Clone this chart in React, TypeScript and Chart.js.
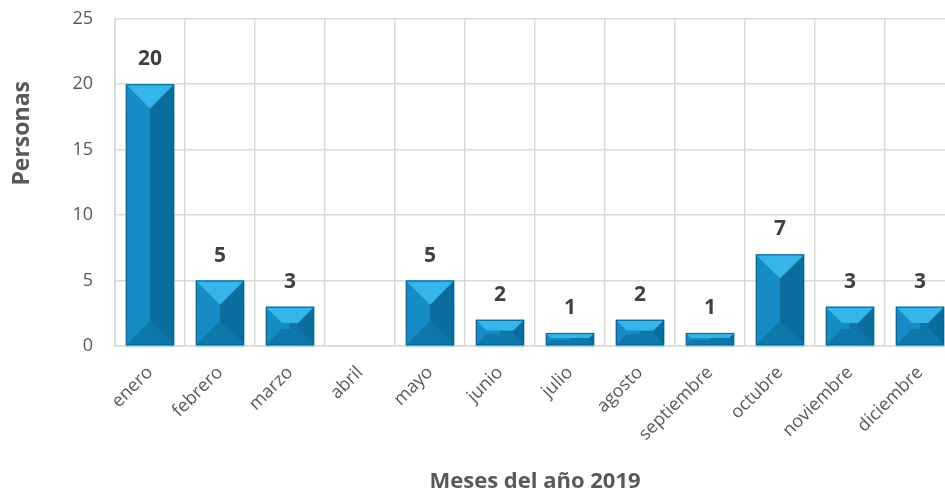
import React, { useEffect, useRef } from "react";
import { Chart, registerables } from "chart.js";

Chart.register(...registerables);

const months = ["enero", "febrero", "marzo", "abril", "mayo", "junio", "julio", "agosto", "septiembre", "octubre", "noviembre", "diciembre"];
const personas = [20, 5, 3, 0, 5, 2, 1, 2, 1, 7, 3, 3];
const yTitle = "Personas";
const xTitle = "Meses del año 2019";

const FONT = "'Open Sans', 'DejaVu Sans', sans-serif";

const bevelPlugin = {
  id: "bevel",
  afterDraw(chart: any) {
    const ctx = chart.ctx;
    const area = chart.chartArea;
    ctx.save();
    ctx.translate(22, area.top + (area.bottom - area.top) * 0.35);
    ctx.rotate(-Math.PI / 2);
    ctx.fillStyle = "#595959";
    ctx.font = `bold 23px ${FONT}`;
    ctx.textAlign = "center";
    ctx.textBaseline = "middle";
    ctx.fillText(yTitle, 0, 0);
    ctx.restore();
  },
  afterDatasetsDraw(chart: any) {
    const ctx = chart.ctx;
    const meta = chart.getDatasetMeta(0);
    meta.data.forEach((bar: any, i: number) => {
      const v = personas[i];
      if (!v) return;
      const { x, y, base, width } = bar.getProps(["x", "y", "base", "width"], true);
      const x0 = x - width / 2;
      const x1 = x + width / 2;
      const top = y;
      const bot = base;
      const h = bot - top;
      const d = Math.min(width / 2, h * 0.42);
      const poly = (pts: number[][], color: string) => {
        ctx.beginPath();
        ctx.moveTo(pts[0][0], pts[0][1]);
        for (let k = 1; k < pts.length; k++) ctx.lineTo(pts[k][0], pts[k][1]);
        ctx.closePath();
        ctx.fillStyle = color;
        ctx.fill();
      };
      ctx.save();
      poly([[x0, top], [x0 + d, top + d], [x0 + d, bot - d], [x0, bot]], "#178bc6");
      poly([[x1, top], [x1 - d, top + d], [x1 - d, bot - d], [x1, bot]], "#0a6d9d");
      if (x1 - d > x0 + d + 0.5) {
        poly([[x0 + d, top + d], [x, top + d], [x, bot - d], [x0 + d, bot - d]], "#178bc6");
        poly([[x, top + d], [x1 - d, top + d], [x1 - d, bot - d], [x, bot - d]], "#0d74a6");
      }
      poly([[x0, bot], [x0 + d, bot - d], [x1 - d, bot - d], [x1, bot]], "#0f78ab");
      poly([[x0, top], [x1, top], [x1 - d, top + d], [x0 + d, top + d]], "#35b5ea");
      ctx.strokeStyle = "#0b6088";
      ctx.lineWidth = 1;
      ctx.strokeRect(x0 + 0.5, top + 0.5, width - 1, h - 1);
      ctx.strokeStyle = "#9ad6ef";
      ctx.beginPath();
      ctx.moveTo(x0, bot + 1.5);
      ctx.lineTo(x1, bot + 1.5);
      ctx.stroke();
      ctx.fillStyle = "#404040";
      ctx.font = `bold 21px ${FONT}`;
      ctx.textAlign = "center";
      ctx.textBaseline = "middle";
      ctx.fillText(String(v), x, top - 25);
      ctx.restore();
    });
  },
};

export default function App() {
  const ref = useRef<HTMLCanvasElement | null>(null);
  useEffect(() => {
    if (!ref.current) return;
    const chart = new Chart(ref.current, {
      type: "bar",
      data: {
        labels: months,
        datasets: [
          {
            data: personas,
            backgroundColor: "#178bc6",
            barPercentage: 0.69,
            categoryPercentage: 1,
          },
        ],
      },
      options: {
        animation: false,
        responsive: false,
        maintainAspectRatio: false,
        layout: { padding: { top: 4, right: 15, left: 0, bottom: 0 } },
        plugins: { legend: { display: false }, tooltip: { enabled: false } },
        scales: {
          x: {
            grid: { color: "#d9d9d9", lineWidth: 1.5, drawTicks: false, offset: true },
            border: { color: "#d9d9d9", width: 1.5 },
            ticks: {
              color: "#595959",
              font: { family: FONT, size: 18 },
              maxRotation: 45,
              minRotation: 45,
              padding: 16,
              autoSkip: false,
            },
            title: {
              display: true,
              text: xTitle,
              color: "#595959",
              font: { family: FONT, size: 22, weight: "bold" },
              padding: { top: 4, bottom: 0 },
            },
            afterFit(scale: any) {
              scale.height = 149;
            },
          },
          y: {
            min: 0,
            max: 25,
            ticks: {
              stepSize: 5,
              color: "#595959",
              font: { family: FONT, size: 18 },
              padding: 22,
            },
            grid: { color: "#d9d9d9", lineWidth: 1.5, drawTicks: false },
            border: { color: "#d9d9d9", width: 1.5 },
            title: { display: false, text: yTitle },
            afterFit(scale: any) {
              scale.width = 115;
            },
          },
        },
      },
      plugins: [bevelPlugin],
    });
    return () => chart.destroy();
  }, []);
  return (
    <div style={{ position: "fixed", left: 0, top: 0, width: 945, height: 495, overflow: "hidden", background: "#fff" }}>
      <canvas ref={ref} width={970} height={509} style={{ display: "block", width: 970, height: 509, marginTop: -14 }} />
    </div>
  );
}
